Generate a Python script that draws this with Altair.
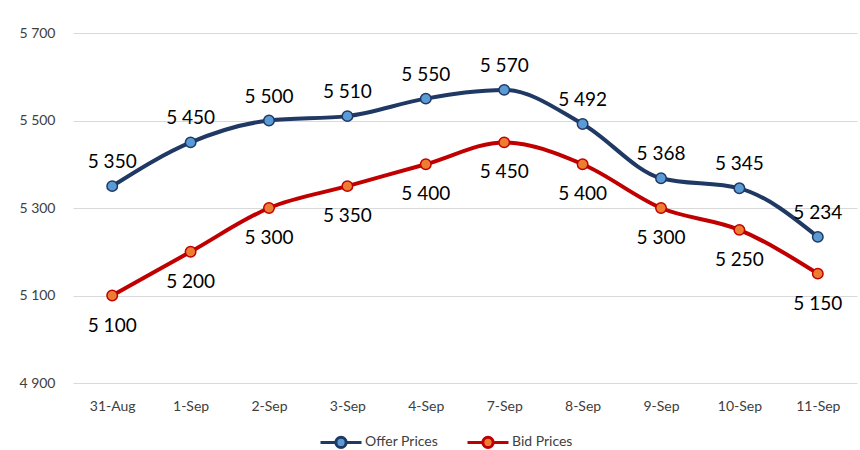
import altair as alt
import pandas as pd

dates = ["31-Aug", "1-Sep", "2-Sep", "3-Sep", "4-Sep", "7-Sep", "8-Sep", "9-Sep", "10-Sep", "11-Sep"]
offer_prices = [5350, 5450, 5500, 5510, 5550, 5570, 5492, 5368, 5345, 5234]
bid_prices = [5100, 5200, 5300, 5350, 5400, 5450, 5400, 5300, 5250, 5150]
series_names = ["Offer Prices", "Bid Prices"]
y_ticks = [4900, 5100, 5300, 5500, 5700]

line_colors = ["#1F3864", "#C00000"]
point_fills = ["#5B9BD5", "#ED7D31"]

rows = []
for d, v in zip(dates, offer_prices):
    rows.append({"date": d, "series": series_names[0], "price": v})
for d, v in zip(dates, bid_prices):
    rows.append({"date": d, "series": series_names[1], "price": v})
df = pd.DataFrame(rows)

FONT = "Lato"
space_fmt = "replace(format(datum.value, ','), ',', ' ')"

x_enc = alt.X(
    "date:O",
    sort=dates,
    scale=alt.Scale(type="point", padding=0.5),
    axis=alt.Axis(
        title=None, labelAngle=0, domain=False, ticks=False, grid=False,
        labelPadding=16, labelFontSize=14, labelFont=FONT, labelColor="#404040",
    ),
)
y_enc = alt.Y(
    "price:Q",
    scale=alt.Scale(domain=[4900, 5700], nice=False, zero=False),
    axis=alt.Axis(
        title=None, values=y_ticks, labelExpr=space_fmt, domain=False, ticks=False,
        gridColor="#D9D9D9", gridWidth=1, labelPadding=18, labelFontSize=14,
        labelFont=FONT, labelColor="#404040",
    ),
)

# legend glyph: a line segment broken by a small circle
legend_symbol = (
    "M-1,0L-0.25,0M0.25,0L1,0"
    "M0.25,0A0.25,0.25,0,1,1,-0.25,0A0.25,0.25,0,1,1,0.25,0Z"
)
legend_props = dict(
    title=None, orient="none", direction="horizontal",
    legendX=246, legendY=387, symbolType=legend_symbol,
    labelFont=FONT, labelFontSize=14, labelColor="#404040",
    symbolSize=1681, symbolStrokeWidth=3, symbolOpacity=1,
    columnPadding=22, labelOffset=2,
)

stroke_enc = alt.Stroke(
    "series:N",
    sort=series_names,
    scale=alt.Scale(domain=series_names, range=line_colors),
    legend=alt.Legend(**legend_props),
)
fill_enc = alt.Fill(
    "series:N",
    sort=series_names,
    scale=alt.Scale(domain=series_names, range=point_fills),
    legend=alt.Legend(**legend_props),
)

base = alt.Chart(df).encode(x=x_enc, y=y_enc)

lines = base.mark_line(interpolate="monotone", strokeWidth=4).encode(stroke=stroke_enc)
points = base.mark_point(filled=False, size=110, strokeWidth=1.5, opacity=1).encode(
    stroke=stroke_enc, fill=fill_enc
)

labels = base.transform_calculate(
    label="replace(format(datum.price, ','), ',', ' ')"
)
offer_labels = labels.transform_filter(
    alt.datum.series == series_names[0]
).mark_text(dy=-24, fontSize=19, font=FONT, color="#000000").encode(text="label:N")
bid_labels = labels.transform_filter(
    alt.datum.series == series_names[1]
).mark_text(dy=30, fontSize=19, font=FONT, color="#000000").encode(text="label:N")

chart = (
    alt.layer(lines, points, offer_labels, bid_labels)
    .properties(
        width=784,
        height=350,
        background="#FFFFFF",
        autosize=alt.AutoSizeParams(type="none"),
        padding={"left": 73, "top": 33, "right": 3, "bottom": 67},
    )
    .configure_view(stroke=None)
)

chart.save("out.html", embed_options={"renderer": "svg", "actions": False})
